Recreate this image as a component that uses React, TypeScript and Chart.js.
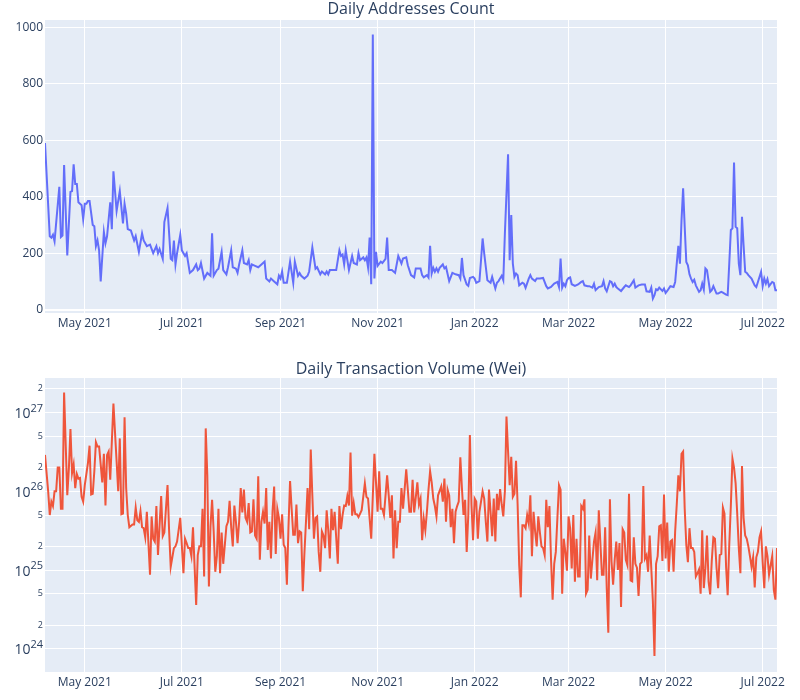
import React, { useEffect, useRef } from 'react';
import { Chart, registerables } from 'chart.js';

Chart.register(...registerables);

const FONT = "'Open Sans', verdana, arial, sans-serif";
const TEXT_COLOR = '#2a3f5f';
const PLOT_BG = '#E5ECF6';

const START_DATE = '2021-04-06';
const END_DATE = '2022-07-10';

const tickDates = ['2021-05-01', '2021-07-01', '2021-09-01', '2021-11-01', '2022-01-01', '2022-03-01', '2022-05-01', '2022-07-01'];
const tickLabels = ['May 2021', 'Jul 2021', 'Sep 2021', 'Nov 2021', 'Jan 2022', 'Mar 2022', 'May 2022', 'Jul 2022'];

const addrTicks = [0, 200, 400, 600, 800, 1000];
const volTicks = [1e24, 2e24, 5e24, 1e25, 2e25, 5e25, 1e26, 2e26, 5e26, 1e27, 2e27];

// day offsets (from START_DATE) of each vertex of the address series
const addrDays = [
  0, 3, 4, 5, 6, 9, 10, 11, 12, 14, 16, 17, 18, 19, 20, 21, 23, 24, 25, 26, 27, 28, 30, 31, 32, 33, 34, 35, 37, 38, 39,
  41, 42, 43, 44, 45, 47, 49, 50, 51, 52, 54, 56, 57, 59, 61, 62, 64, 66, 68, 70, 71, 72, 74, 75, 77, 79, 80, 81, 82, 83,
  85, 86, 88, 89, 91, 93, 95, 96, 97, 98, 100, 102, 104, 105, 106, 108, 109, 111, 112, 114, 115, 117, 118, 120, 121, 122,
  124, 125, 127, 128, 129, 130, 132, 134, 136, 138, 139, 141, 142, 144, 146, 147, 148, 149, 150, 152, 154, 156, 157, 159,
  160, 161, 163, 165, 166, 168, 170, 171, 173, 174, 176, 177, 178, 179, 181, 183, 185, 186, 187, 188, 189, 191, 193, 194,
  196, 197, 198, 200, 201, 202, 203, 204, 205, 206, 207, 208, 209, 211, 212, 214, 215, 216, 218, 220, 222, 224, 225, 227,
  228, 230, 232, 233, 236, 237, 238, 240, 241, 242, 243, 244, 245, 246, 247, 248, 250, 251, 252, 254, 256, 258, 260, 261,
  262, 263, 265, 266, 267, 269, 270, 271, 273, 274, 275, 276, 278, 280, 281, 283, 284, 285, 287, 288, 289, 291, 292, 293,
  294, 295, 296, 297, 298, 300, 301, 302, 304, 305, 306, 308, 309, 311, 313, 315, 316, 318, 320, 322, 323, 324, 325, 326,
  327, 328, 329, 330, 331, 333, 335, 337, 338, 339, 341, 342, 344, 345, 346, 348, 350, 351, 352, 353, 355, 356, 357, 358,
  359, 360, 362, 364, 365, 367, 368, 370, 371, 373, 375, 377, 378, 380, 381, 382, 383, 384, 385, 386, 388, 389, 390, 391,
  393, 395, 396, 397, 398, 399, 400, 401, 402, 403, 404, 405, 406, 407, 408, 409, 411, 412, 413, 414, 415, 416, 418, 419,
  420, 422, 423, 424, 425, 426, 428, 429, 430, 431, 432, 433, 434, 435, 436, 437, 438, 439, 440, 441, 442, 444, 445, 446,
  447, 448, 450, 451, 452, 453, 454, 455, 457, 458, 459, 460,
];

const addrCounts = [
  590, 260, 255, 265, 242, 435, 257, 262, 512, 192, 417, 420, 515, 445, 445, 380, 370, 320, 375, 375, 385, 385, 300, 295, 225, 245, 210, 100, 275, 235, 260,
  380, 285, 490, 420, 350, 420, 305, 375, 340, 285, 280, 245, 260, 205, 270, 245, 225, 230, 200, 225, 200, 215, 180, 310, 360, 180, 175, 245, 160, 200,
  265, 210, 190, 200, 130, 140, 160, 140, 145, 165, 110, 130, 120, 270, 120, 140, 145, 205, 140, 125, 150, 210, 150, 145, 130, 160,
  210, 165, 160, 175, 140, 160, 155, 150, 160, 170, 110, 100, 110, 100, 90, 120, 110, 135, 95, 95, 170, 95, 170, 120,
  130, 120, 110, 120, 135, 220, 145, 150, 125, 135, 125, 135, 125, 140, 140, 140, 210, 190, 195, 160, 210, 140, 190, 165,
  160, 200, 175, 185, 175, 185, 150, 255, 90, 975, 110, 205, 155, 170, 165, 180, 255, 140, 140, 130, 190, 163, 181, 185,
  157, 122, 114, 146, 146, 122, 114, 122, 114, 226, 128, 148, 134, 146, 134, 148, 160, 146, 151, 101, 130, 125, 122, 110,
  183, 122, 89, 84, 112, 116, 110, 95, 101, 175, 252, 199, 104, 95, 116, 75, 95, 101, 120, 104, 270, 550, 175, 335,
  163, 116, 128, 122, 86, 95, 92, 77, 110, 122, 110, 101, 110, 110, 112, 83, 75, 80, 92, 98, 80, 181, 78, 92,
  83, 104, 112, 114, 90, 84, 89, 98, 101, 86, 83, 83, 78, 92, 69, 80, 83, 101, 75, 65, 101, 98, 83, 92,
  80, 75, 66, 80, 86, 80, 86, 104, 78, 86, 89, 89, 65, 63, 78, 39, 51, 72, 69, 78, 66, 75, 59, 66,
  83, 80, 98, 163, 226, 163, 317, 430, 293, 169, 157, 125, 110, 98, 106, 86, 63, 69, 92, 71, 146, 140, 63, 69,
  83, 57, 57, 60, 63, 60, 53, 51, 163, 282, 288, 521, 293, 288, 163, 122, 329, 228, 134, 130, 122, 110, 98, 86,
  80, 98, 134, 83, 110, 92, 108, 83, 98, 95, 69, 69,
];

// day offsets (from START_DATE) of each vertex of the volume series
const volDays = [
  0, 2, 3, 4, 5, 6, 7, 8, 9, 10, 11, 12, 14, 15, 16, 17, 18, 19, 20, 21, 22, 23, 24, 25, 27, 28, 29, 30, 31, 32, 33, 34, 36,
  37, 38, 39, 40, 41, 43, 45, 46, 47, 48, 49, 50, 51, 52, 53, 55, 56, 57, 58, 59, 60, 61, 62, 63, 64, 66, 67, 68, 69, 70,
  71, 73, 74, 75, 77, 78, 79, 81, 82, 83, 85, 87, 88, 89, 90, 91, 92, 93, 95, 96, 97, 98, 99, 100, 101, 102, 103, 104, 105,
  106, 107, 108, 109, 110, 111, 112, 114, 115, 116, 117, 118, 119, 120, 121, 122, 123, 124, 125, 126, 127, 128, 129, 130,
  131, 132, 133, 134, 135, 136, 137, 138, 139, 140, 141, 142, 143, 144, 145, 146, 147, 148, 149, 150, 151, 152, 153, 154,
  155, 156, 157, 158, 159, 160, 161, 162, 163, 164, 165, 166, 167, 168, 169, 170, 171, 172, 173, 174, 175, 176, 177, 178,
  179, 180, 181, 182, 184, 185, 186, 187, 188, 189, 190, 191, 192, 193, 194, 195, 196, 197, 199, 201, 202, 203, 205, 207,
  208, 209, 210, 211, 212, 213, 214, 215, 216, 217, 218, 219, 220, 221, 222, 223, 224, 225, 227, 228, 229, 230, 231, 232,
  234, 235, 236, 237, 238, 239, 240, 241, 242, 243, 244, 245, 246, 247, 249, 250, 251, 252, 253, 254, 255, 256, 257, 258,
  259, 260, 261, 262, 263, 264, 265, 266, 267, 268, 269, 270, 271, 272, 273, 274, 275, 276, 277, 278, 279, 280, 281, 282,
  283, 284, 285, 286, 287, 288, 289, 290, 291, 292, 293, 294, 295, 296, 297, 298, 299, 300, 301, 302, 303, 304, 305, 306,
  307, 308, 309, 310, 311, 312, 313, 314, 315, 316, 317, 318, 319, 320, 321, 322, 323, 324, 325, 326, 327, 328, 329, 330,
  331, 332, 333, 334, 335, 336, 337, 338, 339, 340, 341, 342, 343, 344, 345, 346, 347, 348, 350, 351, 352, 353, 354, 355,
  356, 357, 358, 359, 360, 361, 362, 363, 364, 365, 366, 367, 368, 369, 370, 371, 372, 373, 374, 375, 376, 377, 378, 379,
  380, 381, 382, 383, 384, 385, 386, 387, 388, 389, 390, 391, 392, 393, 394, 395, 396, 397, 398, 399, 400, 401, 402, 403,
  404, 405, 406, 407, 408, 409, 410, 411, 412, 413, 414, 415, 416, 417, 418, 419, 420, 421, 422, 423, 424, 425, 426, 427,
  428, 429, 430, 431, 432, 433, 434, 435, 436, 437, 438, 439, 440, 441, 442, 443, 444, 445, 446, 447, 448, 449, 450, 451,
  452, 453, 454, 455, 456, 457, 458, 459, 460,
];

const volWei = [
  2.9e26, 1.0e26, 5.0e25, 7.4e25, 6.5e25, 1.0e26, 1.0e26, 2.0e26, 2.0e26, 6.0e25, 6.0e25, 1.8e27, 8.9e25, 1.95e26, 6.2e26, 1.7e26, 2.2e26, 1.1e26, 1.66e26, 1.45e26, 1.48e26, 8.5e25, 7.4e25, 1.2e26, 2.3e26, 3.8e26, 9.1e25, 9.3e25, 1.8e26, 4.2e26, 3.7e26, 3.7e26, 1.3e26,
  3.0e26, 6.6e25, 2.9e26, 3.2e26, 1.4e26, 1.3e27, 2.4e26, 1.0e26, 4.7e26, 5.1e25, 5.2e25, 8.7e26, 1.1e26, 5.0e25, 3.5e25, 3.8e25, 3.8e25, 6.2e25, 4.3e25, 4.1e25, 5.6e25, 3.5e25, 3.4e25, 2.6e25, 5.5e25, 8.7e24, 4.8e25, 2.5e25, 2.3e25, 6.5e25,
  1.55e25, 8.7e25, 2.7e25, 3.0e25, 1.2e26, 3.1e25, 1.1e25, 1.9e25, 2.0e25, 2.3e25, 4.6e25, 9.1e24, 2.5e25, 2.2e25, 1.9e25, 1.9e25, 1.5e25, 3.5e25, 3.6e24, 1.55e25, 2.0e25, 2.0e25, 6.0e25, 8.3e24, 6.3e26, 1.6e26, 6.2e24, 3.6e25, 7.8e25,
  3.1e25, 9.5e24, 1.5e25, 6.0e25, 9.1e24, 3.0e25, 1.2e25, 3.6e25, 4.1e25, 7.6e25, 3.5e25, 2.0e25, 6.6e25, 4.1e25, 2.2e25, 4.1e25, 1.1e26, 5.4e25, 1.05e26, 4.6e25, 4.1e25, 7.1e25, 3.0e25, 3.1e25,
  7.9e25, 2.75e25, 2.5e25, 1.55e26, 1.35e25, 4.1e25, 5.5e25, 3.9e25, 1.1e26, 1.8e25, 4.1e25, 1.4e25, 5.6e25, 1.15e26, 1.6e25, 6.0e25, 4.6e25, 2.5e25, 5.1e25, 2.1e25, 1.9e25, 6.5e24, 3.5e25, 1.35e26,
  6.0e25, 2.8e25, 2.8e25, 6.8e25, 2.2e25, 3.1e25, 3.0e25, 5.4e24, 1.6e25, 4.1e25, 1.1e26, 3.3e25, 3.4e26, 8.9e25, 2.5e25, 4.6e25, 4.8e25, 1.7e25, 9.5e24, 3.1e25, 2.75e25, 1.9e25, 5.75e25, 3.2e25,
  1.4e25, 6.0e25, 3.2e25, 5.5e25, 1.2e25, 6.5e25, 3.3e25, 5.0e25, 6.6e25, 6.5e25, 8.7e25, 6.6e25, 3.1e26, 4.9e25, 7.1e25, 5.1e25, 5.1e25, 4.7e25, 5.75e25, 1.26e26, 8.5e25, 8.1e25, 2.5e25, 3.0e26,
  1.3e26, 5.5e25, 1.8e26, 6.0e25, 6.0e25, 5.0e25, 8.9e25, 1.6e26, 8.9e25, 4.6e25, 8.9e25, 1.4e25, 5.75e25, 1.9e25, 4.1e25, 4.1e25, 1.1e26, 6.0e25, 1.9e26, 1.05e26, 5.5e25, 5.5e25, 1.4e26, 5.4e25,
  1.3e26, 6.8e25, 8.1e25, 2.4e25, 4.5e25, 3.2e25, 5.5e25, 1.05e26, 1.8e26, 1.3e26, 8.1e25, 6.5e25, 4.8e25, 8.9e25, 1.15e26, 7.4e25, 1.45e26, 4.1e25, 1.05e26, 8.9e25, 3.5e25, 6.0e25, 2.2e25, 5.5e25,
  6.5e25, 7.4e25, 2.7e26, 1.1e26, 5.0e25, 7.8e25, 1.7e25, 5.0e25, 5.2e26, 6.8e25, 2.4e25, 8.1e25, 7.4e25, 2.5e25, 5.5e25, 7.4e25, 1.0e26, 8.1e25, 4.1e25, 2.3e25, 1.05e26, 5.5e25, 2.7e25, 8.1e25,
  2.3e25, 9.3e25, 5.75e25, 1.07e26, 6.8e25, 4.8e25, 1.0e26, 8.9e26, 3.2e26, 1.2e26, 2.75e26, 8.5e25, 9.3e25, 2.45e26, 6.8e25, 1.15e25, 4.5e24, 3.7e25, 3.7e25, 3.4e25, 5.0e25, 3.9e25, 8.9e25, 1.5e25,
  5.5e25, 3.1e25, 2.0e25, 4.8e25, 3.0e25, 2.0e25, 1.9e25, 1.55e25, 7.8e25, 3.5e25, 6.5e25, 1.35e25, 4.2e24, 1.2e25, 1.7e25, 4.6e25, 1.2e26, 1.05e26, 5.0e24, 2.5e25, 1.7e25, 9.8e24, 4.8e25, 3.4e25,
  1.05e25, 5.0e25, 7.1e24, 2.5e25, 8.3e24, 8.3e24, 6.5e25, 6.0e25, 7.9e25, 5.0e24, 5.6e24, 2.75e25, 7.8e24, 1.35e25, 2.3e25, 3.0e25, 7.4e24, 5.75e25, 8.7e24, 8.7e24, 3.5e25, 5.9e24, 1.6e24, 7.9e25,
  1.3e25, 6.5e24, 1.35e25, 2.3e25, 1.0e25, 2.2e25, 3.4e24, 3.3e25, 3.0e25, 1.35e25, 1.15e25, 9.3e25, 7.4e24, 7.2e24, 2.6e25, 1.2e25, 1.07e25, 4.7e24, 1.2e25, 1.26e25, 1.17e26, 1.4e25, 1.55e25, 9.5e24,
  2.75e25, 1.05e25, 4.0e24, 8.1e23, 1.2e25, 1.5e25, 3.6e25, 3.7e25, 1.3e25, 9.1e25, 1.4e25, 4.0e25, 9.5e24, 2.3e25, 2.4e25, 9.5e24, 3.1e25, 6.8e25, 1.6e26, 1.0e26, 3.0e26, 3.2e26, 6.0e25, 2.1e25,
  1.26e25, 3.4e25, 1.9e25, 1.9e25, 1.7e25, 8.3e24, 9.1e24, 1.02e25, 5.0e24, 3.2e25, 5.9e24, 1.05e25, 2.75e25, 7.1e24, 4.9e24, 1.3e25, 2.6e25, 2.5e25, 1.07e25, 5.9e24, 1.55e25, 1.6e25, 6.2e25, 5.2e25,
  1.1e25, 4.8e24, 2.1e25, 6.6e25, 2.6e26, 2.0e26, 1.26e26, 5.2e25, 1.9e25, 9.1e24, 2.1e26, 4.6e25, 2.75e25, 2.5e25, 2.0e25, 1.5e25, 1.1e25, 1.45e25, 6.0e24, 1.45e25, 1.7e25, 2.6e25, 3.1e25, 1.26e25,
  5.9e24, 2.0e25, 1.5e25, 8.7e24, 1.15e25, 1.5e25, 5.6e24, 4.2e24, 1.9e25,
];

const DAY_MS = 86400000;
const dayOf = (iso: string) => (Date.parse(iso) - Date.parse(START_DATE)) / DAY_MS;
const END_DAY = dayOf(END_DATE);

const bgPlugin = {
  id: 'plotBg',
  beforeDraw(chart: any) {
    const { ctx, chartArea: a } = chart;
    ctx.save();
    ctx.fillStyle = PLOT_BG;
    ctx.fillRect(a.left, a.top, a.right - a.left, a.bottom - a.top);
    ctx.restore();
  },
};

function titlePlugin(text: string, baseline: number) {
  return {
    id: 'subplotTitle',
    afterDraw(chart: any) {
      const { ctx, chartArea: a } = chart;
      ctx.save();
      ctx.font = `16px ${FONT}`;
      ctx.fillStyle = TEXT_COLOR;
      ctx.textAlign = 'center';
      ctx.textBaseline = 'alphabetic';
      ctx.fillText(text, (a.left + a.right) / 2, baseline);
      ctx.restore();
    },
  };
}

const logLabelPlugin = {
  id: 'logLabels',
  afterDraw(chart: any) {
    const { ctx } = chart;
    const scale = chart.scales.y;
    const right = chart.chartArea.left - 2;
    ctx.save();
    ctx.fillStyle = TEXT_COLOR;
    volTicks.forEach((v) => {
      const y = scale.getPixelForValue(v);
      const exp = Math.floor(Math.log10(v) + 1e-9);
      const mant = Math.round(v / Math.pow(10, exp));
      if (mant === 1) {
        ctx.font = `11px ${FONT}`;
        const expText = String(exp);
        const ew = ctx.measureText(expText).width;
        ctx.textAlign = 'right';
        ctx.textBaseline = 'alphabetic';
        ctx.fillText(expText, right, y - 1);
        ctx.font = `14px ${FONT}`;
        ctx.fillText('10', right - ew, y + 5.5);
      } else {
        ctx.font = `9px ${FONT}`;
        ctx.textAlign = 'right';
        ctx.textBaseline = 'middle';
        ctx.fillText(String(mant), right, y);
      }
    });
    ctx.restore();
  },
};

function xScale(axisHeight: number) {
  return {
    type: 'linear',
    min: 0,
    max: END_DAY,
    afterBuildTicks: (s: any) => {
      s.ticks = tickDates.map((d) => ({ value: dayOf(d) }));
    },
    afterFit: (s: any) => {
      s.height = axisHeight;
    },
    grid: { color: '#ffffff', lineWidth: 1, drawTicks: false },
    border: { display: false },
    ticks: {
      autoSkip: false,
      maxRotation: 0,
      padding: 3,
      color: TEXT_COLOR,
      font: { family: FONT, size: 12 },
      callback: (_v: any, i: number) => tickLabels[i],
    },
  };
}

export default function App() {
  const topRef = useRef<HTMLCanvasElement | null>(null);
  const bottomRef = useRef<HTMLCanvasElement | null>(null);

  useEffect(() => {
    const top = new Chart(topRef.current as HTMLCanvasElement, {
      type: 'line',
      data: {
        datasets: [
          {
            label: 'Daily Addresses Count',
            data: addrDays.map((d, i) => ({ x: d, y: addrCounts[i] })),
            borderColor: '#636efa',
            borderWidth: 2,
            pointRadius: 0,
            tension: 0,
            fill: false,
          },
        ],
      },
      options: {
        animation: false,
        responsive: false,
        maintainAspectRatio: false,
        layout: { padding: { top: 20, right: 23, left: 0, bottom: 0 } },
        plugins: { legend: { display: false }, tooltip: { enabled: false }, title: { display: false } },
        scales: {
          x: xScale(37) as any,
          y: {
            type: 'linear',
            min: -12,
            max: 1026,
            afterBuildTicks: (s: any) => {
              s.ticks = addrTicks.map((v) => ({ value: v }));
            },
            afterFit: (s: any) => {
              s.width = 45;
            },
            grid: {
              color: '#ffffff',
              lineWidth: (c: any) => (c.tick && c.tick.value === 0 ? 2 : 1),
              drawTicks: false,
            },
            border: { display: false },
            ticks: {
              padding: 2,
              color: TEXT_COLOR,
              font: { family: FONT, size: 12 },
              callback: (v: any) => String(v),
            },
          },
        },
      },
      plugins: [bgPlugin, titlePlugin('Daily Addresses Count', 14)],
    } as any);

    const bottom = new Chart(bottomRef.current as HTMLCanvasElement, {
      type: 'line',
      data: {
        datasets: [
          {
            label: 'Daily Transaction Volume (Wei)',
            data: volDays.map((d, i) => ({ x: d, y: volWei[i] })),
            borderColor: '#EF553B',
            borderWidth: 2,
            pointRadius: 0,
            tension: 0,
            fill: false,
          },
        ],
      },
      options: {
        animation: false,
        responsive: false,
        maintainAspectRatio: false,
        layout: { padding: { top: 28, right: 23, left: 0, bottom: 0 } },
        plugins: { legend: { display: false }, tooltip: { enabled: false }, title: { display: false } },
        scales: {
          x: xScale(28) as any,
          y: {
            type: 'logarithmic',
            min: 5.07e23,
            max: 2.75e27,
            afterBuildTicks: (s: any) => {
              s.ticks = volTicks.map((v) => ({ value: v }));
            },
            afterFit: (s: any) => {
              s.width = 45;
            },
            grid: { color: '#ffffff', lineWidth: 1, drawTicks: false },
            border: { display: false },
            ticks: { display: false },
          },
        },
      },
      plugins: [bgPlugin, titlePlugin('Daily Transaction Volume (Wei)', 23.5), logLabelPlugin],
    } as any);

    return () => {
      top.destroy();
      bottom.destroy();
    };
  }, []);

  return (
    <div style={{ position: 'absolute', left: 0, top: 0, width: 800, height: 700, background: '#ffffff' }}>
      <canvas ref={topRef} width={800} height={350} style={{ display: 'block', width: 800, height: 350 }} />
      <canvas ref={bottomRef} width={800} height={350} style={{ display: 'block', width: 800, height: 350 }} />
    </div>
  );
}
